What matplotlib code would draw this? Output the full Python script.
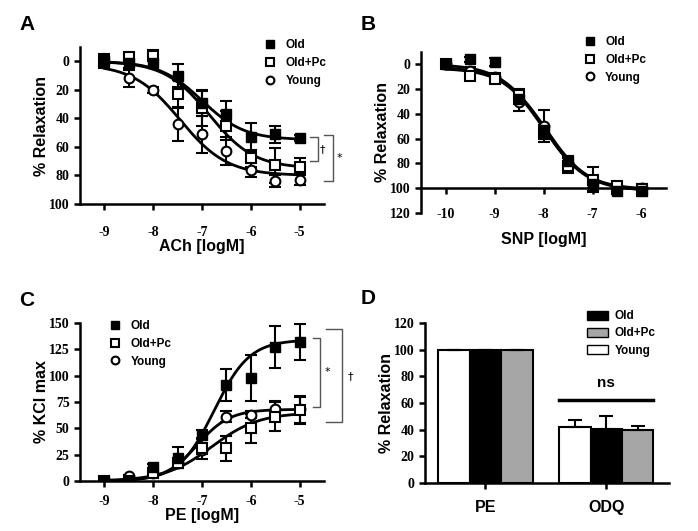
import numpy as np
import matplotlib
matplotlib.use("Agg")
import matplotlib.pyplot as plt
from matplotlib.patches import Patch
from matplotlib.lines import Line2D

# --- data ---
groups = ["Old", "Old+Pc", "Young"]

# panel A: ACh relaxation (%)
ach_x = [-9, -8.5, -8, -7.5, -7, -6.5, -6, -5.5, -5]
ach_old = [0, 1, 1, 10, 29, 37, 53, 51, 54]
ach_old_err = [5, 4, 3, 8, 9, 9, 10, 6, 2]
ach_oldpc = [0, -3, -4, 23, 33, 45, 68, 73, 74]
ach_oldpc_err = [4, 3, 4, 10, 12, 10, 6, 12, 6]
ach_young = [0, 12, 20, 44, 51, 63, 76, 84, 83]
ach_young_err = [4, 6, 2, 12, 13, 10, 5, 4, 4]
# fitted curves: bottom, top, logEC50, hill
ach_fit = {"Old": (0, 55, -7.0, 1.0), "Old+Pc": (0, 75, -6.85, 0.95), "Young": (2, 80, -7.45, 0.9)}

# panel B: SNP relaxation (%)
snp_x = [-10, -9.5, -9, -8.5, -8, -7.5, -7, -6.5, -6]
snp_old = [0, -4, -2, 28, 53, 78, 97, 102, 102]
snp_old_err = [2, 2, 3, 4, 4, 4, 5, 3, 4]
snp_oldpc = [0, 9, 12, 25, 55, 82, 93, 98, 101]
snp_oldpc_err = [2, 3, 3, 5, 5, 6, 10, 3, 3]
snp_young = [0, 5, 10, 30, 50, 80, 95, 100, 100]
snp_young_err = [2, 3, 3, 8, 13, 6, 5, 3, 3]
snp_fit = {"Old": (0, 102, -8.0, 1.0), "Old+Pc": (3, 102, -7.95, 1.0), "Young": (2, 101, -8.0, 1.0)}

# panel C: PE contraction (% KCl max)
pe_x = [-9, -8.5, -8, -7.5, -7, -6.5, -6, -5.5, -5]
pe_old = [0, 0, 13, 22, 44, 91, 98, 127, 132]
pe_old_err = [0, 0, 3, 10, 4, 15, 22, 20, 17]
pe_oldpc = [0, 0, 8, 17, 31, 31, 50, 61, 67]
pe_oldpc_err = [0, 0, 3, 5, 10, 12, 14, 14, 13]
pe_young = [0, 5, 8, 17, 29, 61, 63, 68, 68]
pe_young_err = [0, 1, 2, 5, 3, 5, 3, 8, 13]
pe_fit = {"Old": (0, 134, -6.75, 1.2), "Old+Pc": (0, 65, -6.8, 0.9), "Young": (0, 68, -7.1, 1.3)}

# panel D: bars
bar_cats = ["PE", "ODQ"]
bar_young = [100, 42]
bar_young_err = [0, 5]
bar_old = [100, 40.5]
bar_old_err = [0, 9.5]
bar_oldpc = [100, 40]
bar_oldpc_err = [0, 3]


def hill(x, bottom, top, ec50, h):
    return bottom + (top - bottom) / (1 + 10 ** ((ec50 - x) * h))


SANS = "Liberation Sans"
SERIF = "Liberation Serif"
plt.rcParams["font.family"] = [SERIF]
plt.rcParams["font.weight"] = "bold"
plt.rcParams["axes.unicode_minus"] = False
plt.rcParams["xtick.labelsize"] = 10
plt.rcParams["ytick.labelsize"] = 10

LAB = dict(fontfamily=SANS, fontweight="bold", fontsize=11.5)
LEG = {"family": SANS, "weight": "bold", "size": 8.5}

styles = {
    "Old": dict(marker="s", mfc="black", mec="black", ms=7.5),
    "Old+Pc": dict(marker="s", mfc="white", mec="black", ms=7.5, mew=1.5),
    "Young": dict(marker="o", mfc="white", mec="black", ms=7, mew=1.5),
}

fig = plt.figure(figsize=(6.98, 5.31), dpi=100)


def style_axes(ax):
    for s in ["top", "right"]:
        ax.spines[s].set_visible(False)
    for s in ["left", "bottom"]:
        ax.spines[s].set_linewidth(1.8)
    ax.tick_params(width=1.8, length=4)


def curve_panel(ax, x, series, fits, xlim):
    xs = np.linspace(xlim[0] + 0.5, xlim[1] - 0.5, 300)
    for name in ["Young", "Old+Pc", "Old"]:
        ax.plot(xs, hill(xs, *fits[name]), color="black", lw=2, zorder=2)
    for name in ["Young", "Old+Pc", "Old"]:
        y, e = series[name]
        ax.errorbar(x, y, yerr=e, fmt="none", ecolor="black", elinewidth=1.5,
                    capsize=4, capthick=1.5, zorder=3)
        ax.plot(x, y, ls="none", zorder=4, **styles[name])


def add_legend(ax, anchor):
    handles = [Line2D([], [], ls="none", **styles[n]) for n in groups]
    return ax.legend(handles, groups, loc="upper left", bbox_to_anchor=anchor,
                     frameon=False, handlelength=1.0, handletextpad=0.8, markerscale=0.8,
                     labelspacing=0.5, borderaxespad=0, prop=LEG)


def bracket(ax, x0, x1, y0, y1, text, tx):
    ax.plot([x0, x1, x1, x0], [y0, y0, y1, y1], color="#555555", lw=1, clip_on=False)
    ax.text(tx, (y0 + y1) / 2, text, ha="center", va="center", fontsize=8,
            fontfamily="DejaVu Sans", fontweight="normal", clip_on=False)


# ---------- A ----------
axA = fig.add_axes([0.1146, 0.6158, 0.3496, 0.2957])
curve_panel(axA, ach_x,
            {"Old": (ach_old, ach_old_err), "Old+Pc": (ach_oldpc, ach_oldpc_err),
             "Young": (ach_young, ach_young_err)}, ach_fit, (-9.5, -4.5))
axA.set_xlim(-9.5, -4.5)
axA.set_ylim(100, -10)
axA.set_yticks(range(0, 101, 20))
axA.set_xticks(range(-9, -4))
style_axes(axA)
axA.tick_params(axis="x", pad=12)
axA.set_xlabel("ACh [logM]", labelpad=0, **LAB)
axA.set_ylabel("% Relaxation", labelpad=0, **LAB)
add_legend(axA, (0.735, 1.08))
bracket(axA, -4.79, -4.63, 53, 70, "\u2020", -4.53)
bracket(axA, -4.49, -4.32, 52, 84, "*", -4.18)

# ---------- B ----------
axB = fig.add_axes([0.6032, 0.5989, 0.351, 0.3032])
curve_panel(axB, snp_x,
            {"Old": (snp_old, snp_old_err), "Old+Pc": (snp_oldpc, snp_oldpc_err),
             "Young": (snp_young, snp_young_err)}, snp_fit, (-10.5, -5.5))
axB.set_xlim(-10.5, -5.5)
axB.set_ylim(120, -10)
axB.set_yticks(range(0, 121, 20))
axB.set_xticks(range(-10, -5))
style_axes(axB)
axB.spines["bottom"].set_position(("data", 100))
axB.tick_params(axis="x", pad=10)
axB.set_xlabel("SNP [logM]", labelpad=8, **LAB)
axB.set_ylabel("% Relaxation", labelpad=0, **LAB)
add_legend(axB, (0.645, 1.13))

# ---------- C ----------
axC = fig.add_axes([0.1146, 0.0942, 0.3496, 0.2976])
curve_panel(axC, pe_x,
            {"Old": (pe_old, pe_old_err), "Old+Pc": (pe_oldpc, pe_oldpc_err),
             "Young": (pe_young, pe_young_err)}, pe_fit, (-9.5, -4.5))
axC.set_xlim(-9.5, -4.5)
axC.set_ylim(0, 150)
axC.set_yticks(range(0, 151, 25))
axC.set_xticks(range(-9, -4))
style_axes(axC)
axC.tick_params(axis="x", pad=6)
axC.set_xlabel("PE [logM]", labelpad=0, **LAB)
axC.set_ylabel("% KCl max", labelpad=0, **LAB)
add_legend(axC, (0.1, 1.05))
bracket(axC, -4.73, -4.575, 136, 70.6, "*", -4.43)
bracket(axC, -4.45, -4.13, 144, 55.7, "\u2020", -3.96)

# ---------- D ----------
axD = fig.add_axes([0.6089, 0.0904, 0.3496, 0.3013])
xpos = np.arange(len(bar_cats))
w = 0.26
kw = dict(edgecolor="black", linewidth=1.5, zorder=2)
err_kw = dict(elinewidth=1.5, capsize=5, capthick=1.5, ecolor="black")
axD.bar(xpos - w, bar_young, w, color="white", yerr=[[0, 0], bar_young_err], error_kw=err_kw, **kw)
axD.bar(xpos, bar_old, w, color="black", yerr=[[0, 0], bar_old_err], error_kw=err_kw, **kw)
axD.bar(xpos + w, bar_oldpc, w, color="#a6a6a6", yerr=[[0, 0], bar_oldpc_err], error_kw=err_kw, **kw)
axD.set_xlim(-0.5, 1.52)
axD.set_ylim(0, 120)
axD.set_yticks(range(0, 121, 20))
axD.set_xticks(xpos)
axD.set_xticklabels(bar_cats, fontfamily=SANS, fontweight="bold", fontsize=11.5)
style_axes(axD)
axD.tick_params(axis="x", pad=8)
axD.set_ylabel("% Relaxation", labelpad=0, **LAB)
axD.plot([1 - 1.5 * w, 1 + 1.5 * w], [62, 62], color="black", lw=2.5)
axD.text(1, 70, "ns", ha="center", va="bottom", fontfamily=SANS, fontweight="bold", fontsize=11)
patches = [Patch(facecolor="black", edgecolor="black"),
           Patch(facecolor="#a6a6a6", edgecolor="black"),
           Patch(facecolor="white", edgecolor="black")]
axD.legend(patches, groups, loc="upper left", bbox_to_anchor=(0.645, 1.11), frameon=False,
           handlelength=1.8, handleheight=0.8, handletextpad=0.5, labelspacing=0.45,
           borderaxespad=0, prop=LEG)

# panel letters
for lbl, (px, py) in zip("ABCD", [(27, 25), (368, 25), (27, 300), (368, 298)]):
    fig.text(px / 698, 1 - py / 531, lbl, ha="center", va="center",
             fontfamily=SANS, fontweight="bold", fontsize=15)

fig.savefig("out.png", dpi=100)
